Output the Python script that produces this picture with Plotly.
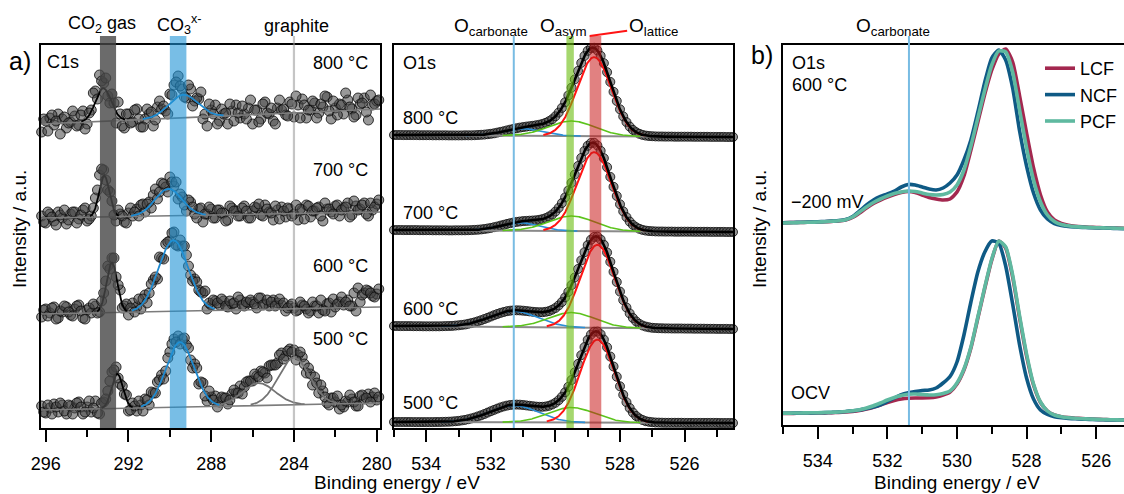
import numpy as np
import plotly.graph_objects as go

FONT = "Liberation Sans, Arial, Helvetica, sans-serif"

# ================= (a) C1s : measured points =================
# set A: 296.2, 296.0, ... 279.8 eV ; set B (interleaved): 296.1, 295.9, ... 279.9 eV
C1S_A_FIRST_EV = 296.2
C1S_B_FIRST_EV = 296.1
C1S_STEP_EV = 0.2
c1s_800 = [-8, 3, 6, -1, 10, 5, -4, 2, 8, -1, 13, 0, 14, 33, 49, 41, 28, 30, 1, 10,
           -4, 10, 2, 15, -3, 5, 10, -2, 17, 15, 13, 30, 39, 48, 35, 26, 35, 23, 25, 5,
           -2, 14, 19, 3, 10, 0, 13, 19, 6, 10, 16, 0, 14, 5, 22, 10, 3, 16, 14, 9,
           22, 7, 19, 25, 6, 14, 21, 11, 17, 27, 5, 16, 20, 10, 24, 15, 9, 20, 26, 4,
           19, 23, 13]
c1s_800_b = [5, -7, 9, 3, -10, 7, 1, 13, -2, 9, -5, 11, 31, 25, 43, 46, 21, 21, 22, -2,
             10, 1, 14, 5, -3, 15, 12, 4, 23, 18, 10, 29, 42, 38, 27, 39, 18, 26, 32, 10,
             20, 10, 0, 15, 11, 20, 3, 11, 18, 5, 24, 14, 2, 20, 11, 16, 0, 24, 15, 8,
             20, 28, 6, 19, 14, 23, 6, 20, 28, 13, 23, 9, 19, 31, 17, 7, 26, 21, 12, 29,
             20, 24]
c1s_700 = [2, -5, 4, -3, 6, 0, -6, 4, 6, -1, 8, -3, 2, 20, 43, 48, 28, 17, -3, 4,
           -4, 5, 2, 9, 13, 6, 16, 23, 19, 35, 31, 41, 32, 19, 21, 7, 16, 4, 9, -4,
           4, 9, 0, 8, 5, -2, 10, 7, 2, 12, 0, 7, 10, 3, 13, 6, -2, 8, 11, 1,
           9, 4, -2, 8, 13, 1, 7, 11, -3, 9, 6, 12, 2, 10, 15, 3, 12, 9, 15, 2,
           8, 14, 10]
c1s_700_b = [-4, 6, 1, -7, 3, 8, -2, 6, -5, 3, 10, -1, 10, 28, 49, 38, 26, 3, 8, 2,
             -5, 10, 6, 2, 14, 14, 10, 29, 26, 34, 26, 36, 36, 24, 13, 18, 11, 0, 10, 4,
             11, 0, 8, 5, -3, 12, 7, 2, 10, 7, 0, 11, 14, 2, 9, 5, 12, -1, 7, 10,
             2, 13, 9, -1, 12, 7, 10, 2, 15, 9, 4, 13, 8, 11, 1, 17, 8, 13, 4, 15,
             11, 18]
c1s_600 = [-3, 5, 1, 7, -4, 2, 7, -1, 5, 9, -4, 4, 1, 8, 2, 21, 48, 56, 37, 24,
           8, -1, 11, 7, 5, 19, 21, 34, 35, 56, 70, 73, 82, 68, 68, 59, 39, 35, 24, 21,
           5, 9, 13, 9, 13, 7, 10, 5, 14, 8, 11, 12, 6, 16, 10, 8, 14, 11, 9, 3,
           8, 6, 4, 9, 5, 3, 8, 1, 4, 10, 2, 7, 12, 9, 14, 8, 3, 12, 21, 23,
           18, 20, 16]
c1s_600_b = [4, -2, 6, -5, 3, 8, 2, -2, 8, 3, -5, 6, 10, 1, 13, 33, 45, 56, 29, 6,
             10, 6, 2, 15, 15, 11, 30, 37, 57, 55, 72, 81, 69, 74, 68, 48, 33, 32, 22, 23,
             11, 14, 11, 15, 8, 13, 11, 17, 9, 12, 14, 10, 16, 9, 14, 12, 8, 15, 11, 6,
             10, 3, 12, 8, 1, 12, 8, 14, 3, 11, 15, 10, 17, 12, 8, 21, 26, 19, 24, 21,
             17, 25]
c1s_500 = [4, -3, 2, 6, -2, 5, -4, 4, 2, 8, -4, 3, -2, 9, -4, 8, 19, 38, 43, 26,
           16, -1, 7, -1, 5, 11, 5, 17, 28, 35, 39, 58, 71, 74, 71, 65, 50, 46, 26, 27,
           9, 13, 14, 8, 12, 6, 16, 17, 24, 23, 29, 29, 34, 39, 37, 44, 45, 47, 57, 54,
           61, 60, 55, 53, 37, 36, 33, 17, 19, 7, 12, 8, 1, 3, 8, 11, 4, 14, 11, 16,
           13, 10, 15]
c1s_500_b = [-2, 5, -4, 3, 7, -1, 5, -4, 7, 3, -2, 9, 2, -3, 7, 11, 29, 40, 32, 24,
             15, 0, 4, 9, -1, 10, 18, 17, 30, 31, 52, 66, 68, 66, 72, 62, 42, 42, 28, 14,
             19, 10, 3, 13, 12, 10, 20, 17, 16, 28, 29, 36, 33, 38, 32, 45, 45, 55, 51, 59,
             58, 50, 58, 46, 42, 25, 27, 25, 13, 5, 12, 14, 5, 9, 15, 8, 4, 15, 12, 8,
             17, 13]
c1s_temps = ["800 °C", "700 °C", "600 °C", "500 °C"]
# linear background: value at 296.2 eV and at 279.8 eV
c1s_bg = [(0, 15), (0, 6), (0, 7), (0, 7)]
# fitted peaks (centre / eV, height, sigma / eV)
c1s_co2 = [(293.22, 33, 0.38), (293.17, 41, 0.25), (292.80, 50, 0.26), (292.54, 34.5, 0.27)]
c1s_co3 = [(289.35, 23, 0.70), (290.07, 27, 0.65), (289.83, 71, 0.72), (289.51, 65, 0.68)]
c1s_graphite_500 = [(285.72, 22.5, 0.80), (284.00, 47, 0.75)]

# ================= (a) O1s : measured points (0.1 eV step from 535.0 to 524.5 eV) =================
O1S_FIRST_EV = 535.0
O1S_STEP_EV = 0.1
o1s_800 = [2.0, 2.0, 2.0, 1.9, 1.9, 1.9, 1.9, 1.9, 1.8, 1.8,
           1.8, 1.8, 1.7, 1.7, 1.7, 1.7, 1.7, 1.6, 1.6, 1.6,
           1.6, 1.6, 1.7, 1.7, 1.7, 1.8, 2.0, 2.2, 2.4, 2.8,
           3.2, 3.7, 4.4, 5.1, 5.8, 6.6, 7.4, 8.1, 8.8, 9.4,
           9.9, 10.4, 10.8, 11.2, 11.7, 12.3, 13.1, 14.2, 15.8, 17.8,
           20.7, 24.4, 29.1, 34.7, 41.6, 49.3, 57.6, 66.1, 74.1, 81.1,
           86.2, 89.0, 89.2, 86.5, 81.2, 73.8, 64.8, 55.1, 45.2, 36.0,
           27.7, 20.6, 14.9, 10.4, 7.1, 4.8, 3.2, 2.1, 1.4, 1.0,
           0.8, 0.6, 0.5, 0.5, 0.4, 0.4, 0.4, 0.3, 0.3, 0.3,
           0.3, 0.3, 0.3, 0.2, 0.2, 0.2, 0.2, 0.2, 0.1, 0.1,
           0.1, 0.1, 0.1, 0.0, 0.0, 0.0]
o1s_700 = [2.0, 2.0, 2.0, 1.9, 1.9, 1.9, 1.9, 1.9, 1.8, 1.8,
           1.8, 1.8, 1.7, 1.7, 1.7, 1.7, 1.7, 1.6, 1.6, 1.7,
           1.7, 1.7, 1.7, 1.8, 1.9, 2.1, 2.3, 2.6, 3.0, 3.5,
           4.1, 4.8, 5.5, 6.4, 7.2, 8.1, 8.8, 9.5, 10.1, 10.5,
           10.9, 11.1, 11.3, 11.5, 11.7, 12.2, 12.9, 13.9, 15.5, 17.5,
           20.4, 24.1, 28.9, 34.6, 41.5, 49.2, 57.5, 66.0, 74.1, 81.1,
           86.2, 89.0, 89.2, 86.5, 81.2, 73.8, 64.8, 55.1, 45.2, 36.0,
           27.7, 20.6, 14.9, 10.4, 7.1, 4.8, 3.2, 2.1, 1.4, 1.0,
           0.8, 0.6, 0.5, 0.5, 0.4, 0.4, 0.4, 0.3, 0.3, 0.3,
           0.3, 0.3, 0.3, 0.2, 0.2, 0.2, 0.2, 0.2, 0.1, 0.1,
           0.1, 0.1, 0.1, 0.0, 0.0, 0.0]
o1s_600 = [3.0, 3.0, 2.9, 2.9, 2.9, 2.9, 2.8, 2.8, 2.8, 2.7,
           2.7, 2.7, 2.7, 2.7, 2.7, 2.8, 2.9, 3.0, 3.1, 3.4,
           3.7, 4.1, 4.5, 5.2, 5.9, 6.7, 7.7, 8.8, 10.0, 11.2,
           12.5, 13.8, 15.0, 16.1, 17.0, 17.8, 18.3, 18.6, 18.7, 18.6,
           18.3, 18.0, 17.6, 17.2, 16.9, 16.8, 16.8, 17.2, 17.9, 19.3,
           21.0, 23.6, 27.0, 31.6, 37.1, 43.9, 51.6, 60.0, 68.6, 76.8,
           83.9, 89.3, 92.1, 92.3, 89.5, 84.2, 76.5, 67.2, 57.2, 47.0,
           37.4, 28.9, 21.5, 15.6, 11.0, 7.6, 5.1, 3.5, 2.4, 1.7,
           1.2, 1.0, 0.8, 0.7, 0.6, 0.6, 0.5, 0.5, 0.5, 0.5,
           0.4, 0.4, 0.4, 0.3, 0.3, 0.3, 0.3, 0.2, 0.2, 0.2,
           0.1, 0.1, 0.1, 0.1, 0.0, 0.0]
o1s_500 = [1.0, 1.0, 1.0, 1.0, 1.0, 1.0, 0.9, 0.9, 0.9, 0.9,
           0.9, 0.9, 0.9, 1.0, 1.0, 1.1, 1.2, 1.3, 1.5, 1.8,
           2.1, 2.6, 3.1, 3.8, 4.6, 5.5, 6.6, 7.7, 9.0, 10.4,
           11.8, 13.1, 14.4, 15.6, 16.6, 17.4, 18.0, 18.3, 18.4, 18.3,
           18.0, 17.6, 17.2, 16.8, 16.4, 16.2, 16.2, 16.5, 17.2, 18.5,
           20.2, 22.8, 26.2, 30.7, 36.2, 43.0, 50.7, 59.1, 67.8, 75.9,
           83.1, 88.4, 91.3, 91.5, 88.8, 83.4, 75.7, 66.5, 56.5, 46.3,
           36.7, 28.2, 20.8, 15.0, 10.4, 7.0, 4.6, 3.0, 1.8, 1.2,
           0.8, 0.5, 0.4, 0.3, 0.2, 0.2, 0.2, 0.2, 0.2, 0.2,
           0.1, 0.1, 0.1, 0.1, 0.1, 0.1, 0.1, 0.1, 0.1, 0.1,
           0.1, 0.0, 0.0, 0.0, 0.0, 0.0]
o1s_temps = ["800 °C", "700 °C", "600 °C", "500 °C"]
# linear background: value at 535.0 eV and at 524.5 eV
o1s_bg = [(2.0, 0.0), (2.0, 0.0), (3.0, 0.0), (1.0, 0.0)]
# fitted peaks (centre / eV, height, sigma / eV)
o1s_carbonate = [(531.0, 7, 0.60), (531.1, 8, 0.60), (531.3, 16, 0.75), (531.3, 17, 0.75)]
o1s_asym = [(529.5, 15, 0.72), (529.5, 15, 0.72), (529.5, 15, 0.72), (529.5, 15, 0.72)]
o1s_lattice = [(528.8, 79, 0.53), (528.8, 79, 0.53), (528.7, 83, 0.53), (528.7, 83, 0.53)]

# ================= (b) O1s 600 °C, three materials (0.2 eV step from 535.0 eV) =================
B_FIRST_EV = 535.0
B_STEP_EV = 0.2
materials = ["LCF", "NCF", "PCF"]
b_m200_LCF = [5.3, 5.4, 5.5, 5.6, 5.8, 6.0, 6.2, 6.6, 7.0, 8.0,
              10.5, 15, 20, 24.5, 28, 31, 33.5, 35.5, 36.5, 35.5,
              33, 30.5, 29, 28, 29, 36, 52, 78, 106, 134,
              158, 174, 179, 166, 132, 95, 60, 33, 16, 8,
              4.5, 2.8, 1.8, 1.2, 0.8, 0.5, 0.3, 0.1, 0, -0.2]
b_m200_NCF = [5.3, 5.5, 5.6, 5.8, 6.0, 6.2, 6.5, 7.0, 7.5, 8.5,
              11.5, 17, 23, 28, 31.5, 34, 37, 41, 43.5, 43,
              41, 39, 38, 40, 45, 53, 68, 88, 116, 146,
              170, 178, 168, 140, 97, 62, 35, 18, 9, 4.5,
              2.5, 1.5, 1.0, 0.6, 0.3, 0.1, 0, -0.2, -0.5, -0.7]
b_m200_PCF = [5.0, 5.2, 5.4, 5.6, 5.8, 6.0, 6.3, 6.8, 7.3, 8.3,
              11, 16, 21, 25.5, 29, 32, 34.5, 36, 37, 36.5,
              35, 33.5, 33, 33.5, 36, 43, 58, 82, 110, 138,
              163, 177, 176, 156, 118, 80, 48, 26, 13, 6.5,
              3.5, 2.2, 1.4, 0.9, 0.6, 0.3, 0.1, 0, -0.2, -0.4]
b_ocv_LCF = [6.5, 6.6, 6.7, 6.8, 6.9, 7.0, 7.1, 7.3, 7.6, 8.0,
             8.6, 9.5, 11, 12.8, 15, 17.5, 19.5, 21, 21.8, 22,
             22, 22.2, 23, 25, 28, 36, 50, 72, 102, 132,
             160, 179, 172, 143, 102, 64, 35, 17.5, 9, 5,
             3.3, 2.4, 1.8, 1.4, 1.0, 0.8, 0.5, 0.3, 0.1, 0]
b_ocv_NCF = [6.7, 6.8, 6.9, 7.0, 7.1, 7.2, 7.4, 7.6, 8.0, 8.5,
             9.2, 10, 11.5, 13, 15.2, 18.5, 22, 25.3, 27.2, 28.5,
             29.5, 30, 32, 37, 43.5, 58, 85, 118, 148, 168,
             179, 177, 154, 116, 75, 42, 21, 10, 5.5, 3.2,
             2.2, 1.6, 1.2, 0.9, 0.6, 0.4, 0.2, 0.1, 0, 0]
b_ocv_PCF = [6.8, 6.9, 7.0, 7.1, 7.2, 7.3, 7.5, 7.7, 8.0, 8.5,
             9.2, 10.3, 12, 14.2, 17, 20, 22.5, 24.5, 25.8, 26,
             25.5, 25, 25.2, 26.5, 29, 37, 51, 73, 103, 133,
             161, 179, 173, 145, 104, 66, 36, 18, 9, 5,
             3.2, 2.3, 1.7, 1.3, 1.0, 0.7, 0.5, 0.3, 0.1, 0]

# reference energies of the marked species
E_CO2_GAS = (293.38, 292.60)
E_CO3 = (290.00, 289.20)
E_GRAPHITE = 284.0
E_O_CARBONATE_A = 531.29
E_O_CARBONATE_B = 531.38
E_O_ASYM = (529.66, 529.43)
E_O_LATTICE = (528.94, 528.58)

# ================= styling / stacking =================
C1S_OFFSETS = [304, 210, 114, 18]
O1S_OFFSETS = [291, 196, 99, 5]
B_OFFSETS = {"m200": 197, "ocv": 5}
MAT_COLORS = {"LCF": "#a3284f", "NCF": "#0f5a85", "PCF": "#5fb9a0"}
PT_FILL = "rgba(70,70,70,0.55)"
PT_EDGE = "rgba(10,10,10,0.8)"


def gauss(e, c, a, s):
    return a * np.exp(-((e - c) ** 2) / (2.0 * s * s))


fig = go.Figure()

# ---------------- panel a, C1s ----------------
be_c1s_a = np.round(C1S_A_FIRST_EV - C1S_STEP_EV * np.arange(len(c1s_800)), 1)
be_c1s_b = np.round(C1S_B_FIRST_EV - C1S_STEP_EV * np.arange(len(c1s_800_b)), 1)
ef_c = np.linspace(296.23, 279.84, 900)
sets_c1s = [(c1s_800, c1s_800_b), (c1s_700, c1s_700_b), (c1s_600, c1s_600_b), (c1s_500, c1s_500_b)]
for i, (pa, pb) in enumerate(sets_c1s):
    off = C1S_OFFSETS[i]
    xs = np.concatenate([be_c1s_a, be_c1s_b])
    ys = off + np.concatenate([np.array(pa, float), np.array(pb, float)])
    fig.add_trace(go.Scatter(x=xs, y=ys, mode="markers",
                             marker=dict(size=10, color=PT_FILL, line=dict(color=PT_EDGE, width=1)),
                             cliponaxis=False, showlegend=False, xaxis="x", yaxis="y"))
    bl, br = c1s_bg[i]
    bgf = bl + (br - bl) * (296.2 - ef_c) / (296.2 - 279.8)
    fig.add_trace(go.Scatter(x=ef_c, y=off + bgf, mode="lines", line=dict(color="#7c7c7c", width=1.6),
                             showlegend=False, xaxis="x", yaxis="y"))
    comps = [(c1s_co3[i], "#1f8ad0"), (c1s_co2[i], "#000000")]
    if i == 3:
        comps = [(g, "#747474") for g in c1s_graphite_500] + comps
    for (c, a, s), col in comps:
        m = np.abs(ef_c - c) <= 2.8 * s
        fig.add_trace(go.Scatter(x=ef_c[m], y=off + bgf[m] + gauss(ef_c[m], c, a, s), mode="lines",
                                 line=dict(color=col, width=1.8), showlegend=False, xaxis="x", yaxis="y"))

# ---------------- panel a, O1s ----------------
be_o1s = np.round(O1S_FIRST_EV - O1S_STEP_EV * np.arange(len(o1s_800)), 1)
ef_o = np.linspace(535.0, 524.5, 700)
for i, pts in enumerate([o1s_800, o1s_700, o1s_600, o1s_500]):
    off = O1S_OFFSETS[i]
    fig.add_trace(go.Scatter(x=be_o1s, y=off + np.array(pts, float), mode="markers",
                             marker=dict(size=9, color=PT_FILL, line=dict(color=PT_EDGE, width=1)),
                             cliponaxis=False, showlegend=False, xaxis="x2", yaxis="y2"))
    bl, br = o1s_bg[i]
    bgf = bl + (br - bl) * (535.0 - ef_o) / (535.0 - 524.5)
    fig.add_trace(go.Scatter(x=ef_o, y=off + bgf, mode="lines", line=dict(color="#8a8a8a", width=2),
                             showlegend=False, xaxis="x2", yaxis="y2"))
    total = bgf.copy()
    for (c, a, s), col, w in [(o1s_carbonate[i], "#2b8fd6", 1.6), (o1s_asym[i], "#5cc41c", 1.6),
                              (o1s_lattice[i], "#ff1414", 2)]:
        g = gauss(ef_o, c, a, s)
        total = total + g
        m = g > 0.012 * a
        fig.add_trace(go.Scatter(x=ef_o[m], y=off + bgf[m] + g[m], mode="lines",
                                 line=dict(color=col, width=w), showlegend=False, xaxis="x2", yaxis="y2"))
    fig.add_trace(go.Scatter(x=ef_o, y=off + total, mode="lines", line=dict(color="#000000", width=2.6),
                             showlegend=False, xaxis="x2", yaxis="y2"))

# ---------------- panel b ----------------
be_b = np.round(B_FIRST_EV - B_STEP_EV * np.arange(len(b_m200_LCF)), 1)
series_b = {"m200": [b_m200_LCF, b_m200_NCF, b_m200_PCF], "ocv": [b_ocv_LCF, b_ocv_NCF, b_ocv_PCF]}
for grp in ["m200", "ocv"]:
    for mat, vals in zip(materials, series_b[grp]):
        fig.add_trace(go.Scatter(x=be_b, y=B_OFFSETS[grp] + np.array(vals, float), mode="lines",
                                 line=dict(color=MAT_COLORS[mat], width=3.6, shape="spline", smoothing=0.6),
                                 name=mat, legendgroup=mat, showlegend=(grp == "m200"),
                                 xaxis="x3", yaxis="y3"))

# ---------------- shapes (marker bands / lines) ----------------
TOP = 1.0235
shapes = [
    dict(type="rect", xref="x", yref="y domain", x0=E_CO2_GAS[0], x1=E_CO2_GAS[1], y0=0, y1=TOP,
         fillcolor="rgba(70,70,70,0.8)", line=dict(width=0), layer="above"),
    dict(type="rect", xref="x", yref="y domain", x0=E_CO3[0], x1=E_CO3[1], y0=0, y1=TOP,
         fillcolor="rgba(30,147,213,0.6)", line=dict(width=0), layer="above"),
    dict(type="line", xref="x", yref="y domain", x0=E_GRAPHITE, x1=E_GRAPHITE, y0=0, y1=TOP,
         line=dict(color="rgba(150,150,150,0.55)", width=2.2), layer="above"),
    dict(type="line", xref="x2", yref="y2 domain", x0=E_O_CARBONATE_A, x1=E_O_CARBONATE_A, y0=0, y1=TOP,
         line=dict(color="#78bce3", width=2), layer="above"),
    dict(type="rect", xref="x2", yref="y2 domain", x0=E_O_ASYM[0], x1=E_O_ASYM[1], y0=0, y1=TOP,
         fillcolor="rgba(105,188,13,0.6)", line=dict(width=0), layer="above"),
    dict(type="rect", xref="x2", yref="y2 domain", x0=E_O_LATTICE[0], x1=E_O_LATTICE[1], y0=0, y1=TOP,
         fillcolor="rgba(200,25,25,0.55)", line=dict(width=0), layer="above"),
    dict(type="line", xref="x3", yref="y3 domain", x0=E_O_CARBONATE_B, x1=E_O_CARBONATE_B, y0=0, y1=1.0237,
         line=dict(color="#78bce3", width=2), layer="above"),
]

# ---------------- text ----------------
def ann(text, x, y, size=18, xanchor="left", xref="paper", yref="paper", **kw):
    d = dict(text=text, x=x, y=y, xref=xref, yref=yref, xanchor=xanchor, yanchor="middle",
             showarrow=False, font=dict(family=FONT, size=size, color="black"))
    d.update(kw)
    return d

W, H0, PH = 1124.0, 428.0, 383.0
def px(v):
    return v / W
def py(v):
    return (H0 - v) / PH

annotations = [
    ann("a)", px(20), py(61), size=25, xanchor="center"),
    ann("b)", px(762), py(55), size=25, xanchor="center"),
    ann("C1s", px(45), py(62)),
    ann("O1s", px(401), py(63)),
    ann("O1s", px(790), py(63)),
    ann("600 °C", px(790), py(85)),
    ann("−200 mV", px(789), py(202)),
    ann("OCV", px(789), py(393)),
    ann("Intensity / a.u.", px(20), py(229), size=19, xanchor="center", textangle=-90),
    ann("Intensity / a.u.", px(760), py(229), size=19, xanchor="center", textangle=-90),
    ann("Binding energy / eV", px(397), py(482), size=19, xanchor="center"),
    ann("Binding energy / eV", px(957), py(482), size=19, xanchor="center"),
    ann("CO<sub>2</sub> gas", 293.3, py(25), xanchor="center", xref="x"),
    ann("CO<sub>3</sub><sup>x-</sup>", 289.55, py(25), xanchor="center", xref="x"),
    ann("graphite", 283.9, py(26), xanchor="center", xref="x"),
    ann("O<sub>carbonate</sub>", 532.0, py(27), size=19, xanchor="center", xref="x2"),
    ann("O<sub>asym</sub>", 529.76, py(27), size=19, xanchor="center", xref="x2"),
    ann("O<sub>carbonate</sub>", 531.84, py(27), size=19, xanchor="center", xref="x3"),
]
c1s_label_y = [63, 170, 266, 339]
for t, yy in zip(c1s_temps, c1s_label_y):
    annotations.append(ann(t, px(370), py(yy), xanchor="right"))
o1s_label_y = [118, 213, 309, 403]
for t, yy in zip(o1s_temps, o1s_label_y):
    annotations.append(ann(t, px(401), py(yy)))
# O_lattice label with red leader line
annotations.append(dict(text="O<sub>lattice</sub>", x=E_O_LATTICE[0], y=TOP, xref="x2", yref="y2 domain",
                        showarrow=True, arrowhead=0, arrowwidth=2, arrowcolor="#ff1414",
                        ax=64, ay=-9, standoff=0, startstandoff=0,
                        font=dict(family=FONT, size=19, color="black")))

axis_common = dict(showgrid=False, zeroline=False, showline=True, linewidth=2, linecolor="black",
                   mirror=True, ticks="outside", ticklen=12, tickwidth=2, tickcolor="black",
                   ticklabelstandoff=6, automargin=False,
                   tickfont=dict(family=FONT, size=18, color="black"))
yaxis_common = dict(showgrid=False, zeroline=False, showline=True, linewidth=2, linecolor="black",
                    mirror=True, ticks="", showticklabels=False, automargin=False)

fig.update_layout(
    width=1124, height=494, autosize=False,
    margin=dict(l=0, r=0, t=45, b=66, pad=0, autoexpand=False),
    paper_bgcolor="white", plot_bgcolor="white",
    font=dict(family=FONT, size=18, color="black"),
    xaxis=dict(domain=[41 / W, 380 / W], range=[296.23, 279.84], anchor="y",
               tick0=280, dtick=4,
               minor=dict(dtick=2, tick0=280, ticks="outside", ticklen=7, tickwidth=2, tickcolor="black",
                          showgrid=False),
               **axis_common),
    yaxis=dict(domain=[0, 1], range=[0, 383], anchor="x", **yaxis_common),
    xaxis2=dict(domain=[394 / W, 733 / W], range=[535, 524.5], anchor="y2",
                tick0=526, dtick=2,
                minor=dict(dtick=1, tick0=525, ticks="outside", ticklen=7, tickwidth=2, tickcolor="black",
                           showgrid=False),
                **axis_common),
    yaxis2=dict(domain=[0, 1], range=[0, 383], anchor="x2", **yaxis_common),
    xaxis3=dict(domain=[783 / W, 1.0], range=[535, 525.2], anchor="y3",
                tick0=526, dtick=2,
                minor=dict(dtick=1, tick0=525, ticks="outside", ticklen=7, tickwidth=2, tickcolor="black",
                           showgrid=False),
                **axis_common),
    yaxis3=dict(domain=[3 / PH, 1], range=[0, 380], anchor="x3",
                **{**yaxis_common, "mirror": False}),
    shapes=shapes,
    annotations=annotations,
    showlegend=True,
    legend=dict(x=1040 / W, y=py(50), xanchor="left", yanchor="top", bgcolor="rgba(0,0,0,0)",
                font=dict(family=FONT, size=18, color="black"), itemwidth=30, tracegroupgap=0,
                traceorder="normal"),
)

fig.write_html("out.html", config={"displayModeBar": False},
               post_script="document.body.style.margin='0px';document.body.style.padding='0px';")
